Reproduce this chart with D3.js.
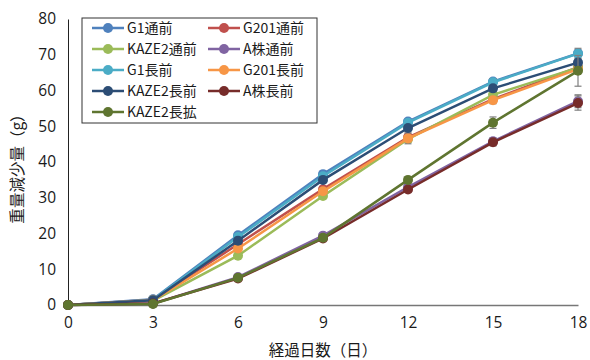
<!DOCTYPE html>
<html>
<head>
<meta charset="utf-8">
<script src="https://cdn.jsdelivr.net/npm/d3@7/dist/d3.min.js"></script>
<style>
  body { margin: 0; background: #fff; }
  text { font-family: "Noto Sans CJK JP", "Liberation Sans", sans-serif; fill: #1a1a1a; }
</style>
</head>
<body>
<svg id="chart" width="590" height="360"></svg>
<script>
// Days elapsed
const days = [0, 3, 6, 9, 12, 15, 18];
const yTicks = [0, 10, 20, 30, 40, 50, 60, 70, 80];

// Weight loss (g) per series
const seriesNames = ["G1通前", "G201通前", "KAZE2通前", "A株通前", "G1長前", "G201長前", "KAZE2長前", "A株長前", "KAZE2長拡"];
const seriesColors = ["#4F81BD", "#C0504D", "#9BBB59", "#8064A2", "#4BACC6", "#F79646", "#2C4D75", "#772C2A", "#5F7530"];
const g1Tsu    = [0, 1.6, 19.5, 36.6, 51.3, 62.5, 70.4];
const g201Tsu  = [0, 1.5, 17.0, 32.4, 46.9, 57.6, 66.5];
const kaze2Tsu = [0, 1.2, 13.8, 30.5, 46.4, 58.8, 66.4];
const aTsu     = [0, 0.4, 7.8, 19.4, 33.0, 45.8, 57.0];
const g1Naga   = [0, 1.5, 19.0, 36.0, 51.0, 62.3, 70.3];
const g201Naga = [0, 1.3, 15.8, 31.8, 46.6, 57.3, 66.0];
const kaze2Naga= [0, 1.3, 18.0, 35.0, 49.5, 60.6, 67.8];
const aNaga    = [0, 0.4, 7.4, 18.6, 32.3, 45.5, 56.5];
const kaze2Kaku= [0, 0.3, 7.6, 18.8, 35.0, 51.0, 65.5];
const seriesValues = [g1Tsu, g201Tsu, kaze2Tsu, aTsu, g1Naga, g201Naga, kaze2Naga, aNaga, kaze2Kaku];

// Standard deviations (g)
const g1TsuErr    = [0, 0.3, 0.5, 0.6, 0.6, 0.8, 1.0];
const g201TsuErr  = [0, 0.3, 0.6, 0.8, 1.2, 1.0, 1.3];
const kaze2TsuErr = [0, 0.3, 0.5, 0.6, 0.8, 0.8, 1.0];
const aTsuErr     = [0, 0.2, 0.4, 0.6, 0.8, 1.0, 1.8];
const g1NagaErr   = [0, 0.3, 0.5, 0.6, 0.7, 1.0, 1.5];
const g201NagaErr = [0, 0.3, 0.6, 0.8, 1.5, 1.0, 1.2];
const kaze2NagaErr= [0, 0.3, 0.5, 0.6, 0.8, 0.9, 1.2];
const aNagaErr    = [0, 0.2, 0.4, 0.6, 0.8, 1.0, 2.0];
const kaze2KakuErr= [0, 0.2, 0.5, 0.6, 0.8, 1.6, 4.3];
const seriesErrors = [g1TsuErr, g201TsuErr, kaze2TsuErr, aTsuErr, g1NagaErr, g201NagaErr, kaze2NagaErr, aNagaErr, kaze2KakuErr];

const svg = d3.select("#chart");
const x = d3.scaleLinear().domain([0, 18]).range([68, 578]);
const y = d3.scaleLinear().domain([0, 80]).range([305, 19]);

// Axes
const yAxis = svg.append("g").attr("transform", `translate(${x(0)},0)`)
  .call(d3.axisLeft(y).tickValues(yTicks).tickSize(0).tickPadding(12));
yAxis.select(".domain").attr("stroke", "#222").attr("stroke-width", 1);
yAxis.selectAll("text").style("font-size", "15.5px").style("font-family", "'Open Sans', 'Liberation Sans', sans-serif");

const xAxis = svg.append("g").attr("transform", `translate(0,${y(0)})`)
  .call(d3.axisBottom(x).tickValues(days).tickSize(0).tickPadding(12));
xAxis.select(".domain").attr("stroke", "#777").attr("stroke-width", 1.5);
xAxis.selectAll("text").style("font-size", "15.5px").style("font-family", "'Open Sans', 'Liberation Sans', sans-serif");

// Axis titles
svg.append("text").attr("x", 323).attr("y", 356).attr("text-anchor", "middle")
  .style("font-size", "15.5px").text("経過日数（日）");
svg.append("text").attr("transform", "translate(23,165) rotate(-90)").attr("text-anchor", "middle")
  .style("font-size", "15.5px").text("重量減少量（g）");

const line = d3.line().x((d, i) => x(days[i])).y(d => y(d));

seriesValues.forEach((vals, s) => {
  const g = svg.append("g");
  // error bars
  vals.forEach((v, i) => {
    const e = seriesErrors[s][i];
    if (e <= 0) return;
    const cx = x(days[i]);
    g.append("line").attr("x1", cx).attr("x2", cx).attr("y1", y(v - e)).attr("y2", y(v + e))
      .attr("stroke", "#7f7f7f").attr("stroke-width", 1.2);
    [v - e, v + e].forEach(t => {
      g.append("line").attr("x1", cx - 3.5).attr("x2", cx + 3.5).attr("y1", y(t)).attr("y2", y(t))
        .attr("stroke", "#7f7f7f").attr("stroke-width", 1.2);
    });
  });
  g.append("path").datum(vals).attr("d", line).attr("fill", "none")
    .attr("stroke", seriesColors[s]).attr("stroke-width", 2.5);
  g.selectAll("circle").data(vals).enter().append("circle")
    .attr("cx", (d, i) => x(days[i])).attr("cy", d => y(d)).attr("r", 5)
    .attr("fill", seriesColors[s]);
});

// Legend
const legend = svg.append("g");
legend.append("rect").attr("x", 82).attr("y", 18).attr("width", 235).attr("height", 105)
  .attr("fill", "#fff").attr("stroke", "#333").attr("stroke-width", 1);
seriesNames.forEach((name, s) => {
  const col = s % 2, row = Math.floor(s / 2);
  const lx = col === 0 ? 92 : 208;
  const ly = 28 + row * 21;
  legend.append("line").attr("x1", lx).attr("x2", lx + 32).attr("y1", ly).attr("y2", ly)
    .attr("stroke", seriesColors[s]).attr("stroke-width", 2.5);
  legend.append("circle").attr("cx", lx + 16).attr("cy", ly).attr("r", 5).attr("fill", seriesColors[s]);
  legend.append("text").attr("x", lx + 35).attr("y", ly).attr("dy", "0.36em")
    .style("font-size", "14px").text(name);
});
</script>
</body>
</html>
